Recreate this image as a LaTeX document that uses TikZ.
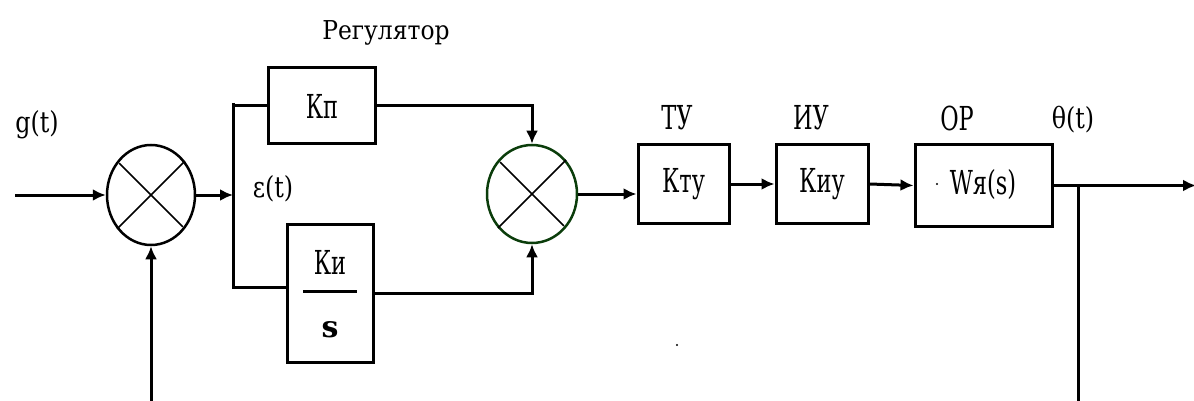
\documentclass[tikz,border=0pt]{standalone}
\usepackage{fontspec}
\setmainfont{DejaVu Serif}
\usetikzlibrary{arrows.meta,shapes.geometric}
\definecolor{sumgreen}{HTML}{0B3D0B}
\begin{document}
\begin{tikzpicture}[x=1pt,y=-1pt,
  blk/.style={draw, line width=3pt, rectangle, inner sep=0pt},
  sumj/.style={draw, ellipse, line width=2.5pt, inner sep=0pt},
  cross/.style={line width=1.6pt, shorten <=3pt, shorten >=3pt},
  ln/.style={line width=3pt},
  arr/.style={line width=3pt, -{Latex[length=13pt,width=12pt]}},
  txt/.style={font=\fontsize{33}{38}\selectfont, xscale=0.68, transform shape, inner sep=0pt},
  sig/.style={font=\fontsize{29}{34}\selectfont, xscale=0.82, transform shape, inner sep=0pt},
  ttl/.style={font=\fontsize{26}{30}\selectfont, xscale=0.9, transform shape, inner sep=0pt}]
\useasboundingbox (0,0) rectangle (1194,401);

% summing junctions
\node[sumj, minimum width=88pt, minimum height=100pt] (s1) at (151,195) {};
\draw[cross] (s1.45) -- (s1.225) (s1.135) -- (s1.315);
\node[sumj, draw=sumgreen, minimum width=90pt, minimum height=98pt] (s2) at (532,194) {};
\draw[cross] (s2.45) -- (s2.225) (s2.135) -- (s2.315);

% blocks
\node[blk, minimum width=107pt, minimum height=76pt] (kp) at (322,106) {};
\node[txt] (kpt) at (kp) {Кп};
\node[blk, minimum width=86pt, minimum height=138pt] (ki) at (330,293) {};
\node[txt] (kit) at (330,262) {Ки};
\draw[line width=3pt] (303,291) -- (357,291);
\node[font=\fontsize{30}{34}\selectfont\bfseries, inner sep=0pt] (kis) at (330,330) {s};
\node[blk, minimum width=91pt, minimum height=78pt] (ktu) at (683.5,184) {};
\node[txt] (ktut) at (ktu) {Кту};
\node[blk, minimum width=92pt, minimum height=78pt] (kiu) at (822,184) {};
\node[txt] (kiut) at (kiu) {Киу};
\node[blk, minimum width=137pt, minimum height=81pt] (op) at (983.5,185.5) {};
\node[txt] (opt) at (983,185) {Wя(s)};
\fill (937,184) circle (1.2pt);

% labels
\node[sig] (gl) at (37,125) {g(t)};
\node[ttl] (rl) at (386,33) {Регулятор};
\node[sig] (el) at (273,189) {ε(t)};
\node[txt] (tul) at (677,118) {ТУ};
\node[txt] (iul) at (811,118) {ИУ};
\node[txt] (orl) at (957,118) {ОР};
\node[sig] (thl) at (1073,120) {θ(t)};
\fill (677,345) circle (1.2pt);

% connectors
\coordinate (in) at (15,195);
\draw[arr] (in) -- (s1.west);
\coordinate (br) at (233,195);
\draw[arr] (s1.east) -- (br);
\coordinate (brt) at (233,103);
\coordinate (brb) at (233,287);
\draw[ln] (brt) -- (brb) -- (brb -| ki.west);
\draw[ln] (br |- kp.west) -- (kp.west);
\draw[arr] (kp.east) -| (s2.north);
\draw[arr] (ki.east) -| (s2.south);
\draw[arr] (s2.east) -- (s2.east -| ktu.west);
\draw[arr] (ktu.east) -- (kiu.west);
\draw[arr] (kiu.east) -- (op.west);
\coordinate (out) at (1196,185);
\draw[arr] (op.east) -- (op.east -| out);
\coordinate (fb) at (1078,185);
\coordinate (fbb) at (1078,401);
\draw[ln] (fb |- op.east) -- (fbb);
\coordinate (fb1) at (151,401);
\draw[arr] (fb1) -- (s1.south);
\end{tikzpicture}
\end{document}
